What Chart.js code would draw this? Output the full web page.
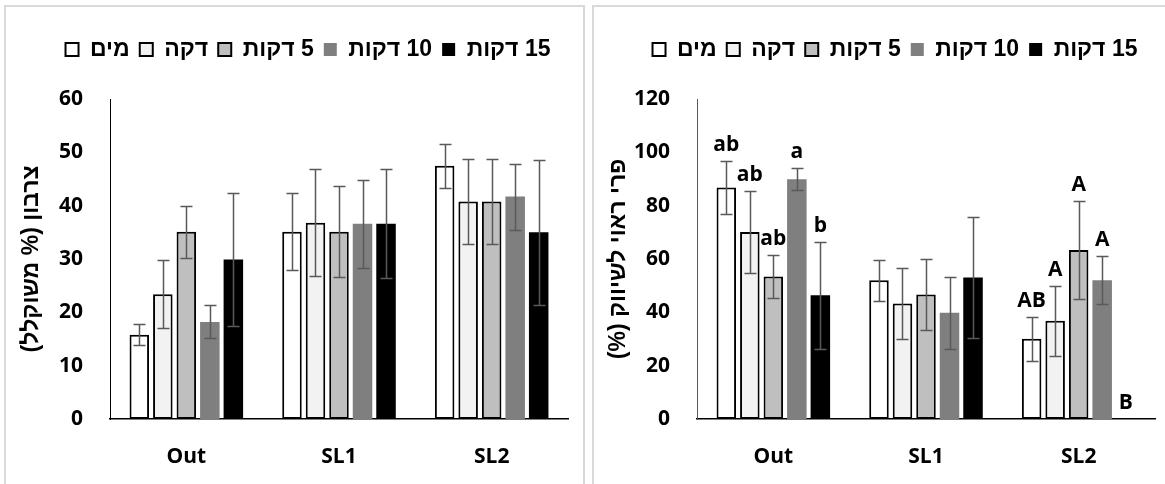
<!DOCTYPE html>
<html lang="he">
<head>
<meta charset="utf-8">
<script src="https://cdn.jsdelivr.net/npm/chart.js@4.4.1/dist/chart.umd.min.js"></script>
<style>
  html, body { margin: 0; padding: 0; background: #fff; width: 1165px; height: 484px; overflow: hidden; }
  .panel { position: absolute; top: 5px; height: 520px; border: 2px solid #d9d9d9; box-sizing: border-box; background: #fff; }
  #p1 { left: 4px; width: 581px; }
  #p2 { left: 592px; width: 620px; }
  canvas { position: absolute; top: 0; }
  #c1 { left: 0; }
  #c2 { left: 587px; }
</style>
</head>
<body>
<div class="panel" id="p1"></div>
<div class="panel" id="p2"></div>
<canvas id="c1" dir="rtl" width="588" height="484"></canvas>
<canvas id="c2" dir="rtl" width="588" height="484"></canvas>
<script>
// Categories and treatment names
const categories = ['Out', 'SL1', 'SL2'];
const treatments = ['מים', 'דקה', '5 דקות', '10 דקות', '15 דקות'];

// Scald index (% weighted) per treatment, one value per category
const scaldWater = [15.8, 35.1, 47.5];
const scaldMin1  = [23.4, 36.8, 40.8];
const scaldMin5  = [35.1, 35.1, 40.8];
const scaldMin10 = [18.2, 36.6, 41.7];
const scaldMin15 = [29.9, 36.6, 35.0];
const scaldErrWater = [2.0, 7.2, 4.1];
const scaldErrMin1  = [6.4, 10.0, 8.0];
const scaldErrMin5  = [4.9, 8.5, 7.9];
const scaldErrMin10 = [3.1, 8.3, 6.2];
const scaldErrMin15 = [12.5, 10.2, 13.6];
const scaldTicks = { max: 60, step: 10 };

// Marketable fruit (%) per treatment
const marketWater = [86.8, 52.0, 30.1];
const marketMin1  = [70.1, 43.3, 36.8];
const marketMin5  = [53.4, 46.7, 63.4];
const marketMin10 = [89.9, 39.8, 52.0];
const marketMin15 = [46.4, 53.1, 0];
const marketErrWater = [9.8, 7.7, 8.2];
const marketErrMin1  = [15.3, 13.4, 13.1];
const marketErrMin5  = [8.2, 13.2, 18.5];
const marketErrMin10 = [4.2, 13.5, 9.0];
const marketErrMin15 = [20.0, 22.7, 0];
const marketTicks = { max: 120, step: 20 };

// Significance letters above the marketable-fruit bars
const lettersWater = ['ab', '', 'AB'];
const lettersMin1  = ['ab', '', 'A'];
const lettersMin5  = ['ab', '', 'A'];
const lettersMin10 = ['a', '', 'A'];
const lettersMin15 = ['b', '', 'B'];

const barStyles = [
  { backgroundColor: '#ffffff', borderColor: '#000000', borderWidth: 2 },
  { backgroundColor: '#f2f2f2', borderColor: '#000000', borderWidth: 2 },
  { backgroundColor: '#bfbfbf', borderColor: '#000000', borderWidth: 2 },
  { backgroundColor: '#7f7f7f', borderColor: '#7f7f7f', borderWidth: 0 },
  { backgroundColor: '#000000', borderColor: '#000000', borderWidth: 0 }
];

// Vertical error bars with caps, drawn from each dataset's "errors" list
const errorBars = {
  id: 'errorBars',
  afterDatasetsDraw(chart, args, opts) {
    const { ctx } = chart;
    const y = chart.scales.y;
    ctx.save();
    ctx.strokeStyle = opts.color;
    ctx.lineWidth = opts.width;
    chart.data.datasets.forEach((ds, i) => {
      const meta = chart.getDatasetMeta(i);
      meta.data.forEach((bar, j) => {
        const e = ds.errors ? ds.errors[j] : 0;
        if (!e) return;
        const v = ds.data[j];
        const yt = Math.round(y.getPixelForValue(v + e)) + 0.5;
        const yb = Math.round(y.getPixelForValue(v - e)) + 0.5;
        const x = Math.round(bar.x) + 0.5;
        ctx.beginPath();
        ctx.moveTo(x, yt); ctx.lineTo(x, yb);
        ctx.moveTo(x - opts.cap, yt); ctx.lineTo(x + opts.cap, yt);
        ctx.moveTo(x - opts.cap, yb); ctx.lineTo(x + opts.cap, yb);
        ctx.stroke();
      });
    });
    ctx.restore();
  }
};

// Letters written just above the top of each error bar
const sigLetters = {
  id: 'sigLetters',
  afterDatasetsDraw(chart, args, opts) {
    const { ctx } = chart;
    const y = chart.scales.y;
    ctx.save();
    ctx.font = opts.font;
    ctx.fillStyle = '#000';
    ctx.textAlign = 'center';
    ctx.textBaseline = 'alphabetic';
    ctx.direction = 'ltr';
    chart.data.datasets.forEach((ds, i) => {
      if (!ds.letters) return;
      const meta = chart.getDatasetMeta(i);
      meta.data.forEach((bar, j) => {
        const t = ds.letters[j];
        if (!t) return;
        const top = ds.data[j] + (ds.errors ? ds.errors[j] : 0);
        ctx.fillText(t, bar.x, y.getPixelForValue(top) - opts.gap);
      });
    });
    ctx.restore();
  }
};

// Horizontal offset of the legend row
const legendNudge = {
  id: 'legendNudge',
  afterLayout(chart, args, opts) {
    const l = chart.legend;
    if (l && opts.dx) { l.left += opts.dx; l.right += opts.dx; }
  }
};

const tickFont = { family: 'Open Sans', weight: 'bold', size: 21 };
const hebFont = { family: 'Arial, "Liberation Sans"', weight: 'bold', size: 23 };

function makeChart(canvasId, values, errors, letters, ticks, yTitle, axisColor) {
  const datasets = treatments.map((name, i) => Object.assign({
    label: name,
    data: values[i],
    errors: errors[i],
    letters: letters ? letters[i] : null,
    categoryPercentage: 0.77,
    barPercentage: 0.83,
    borderSkipped: false
  }, barStyles[i]));

  return new Chart(document.getElementById(canvasId), {
    type: 'bar',
    data: { labels: categories, datasets },
    plugins: [errorBars, sigLetters, legendNudge],
    options: {
      responsive: false,
      animation: false,
      layout: { padding: { left: 20, right: 20, top: 28, bottom: 0 } },
      plugins: {
        legend: {
          position: 'top',
          textDirection: 'rtl',
          labels: {
            font: hebFont,
            color: '#000',
            boxWidth: 13,
            boxHeight: 13,
            padding: 10
          }
        },
        title: {
          display: true,
          text: '',
          weight: 500,
          font: { size: 1, lineHeight: 1 },
          padding: { top: 0, bottom: 27 }
        },
        tooltip: { enabled: false },
        errorBars: { color: '#595959', width: 1.5, cap: 6 },
        sigLetters: { font: 'bold 21px "Open Sans"', gap: 10 },
        legendNudge: { dx: 14 }
      },
      scales: {
        x: {
          grid: { display: false, drawTicks: false },
          border: { display: true, color: '#000', width: 1.5 },
          ticks: { font: tickFont, color: '#000', padding: 25 },
          afterFit(s) { s.height = 65; }
        },
        y: {
          min: 0,
          max: ticks.max,
          grid: { display: false, drawTicks: false },
          border: { display: true, color: axisColor, width: 1 },
          ticks: { stepSize: ticks.step, font: tickFont, color: '#000', padding: 27 },
          title: {
            display: true,
            text: yTitle,
            color: '#000',
            font: hebFont,
            padding: { top: -2, bottom: 0 }
          },
          afterFit(s) { s.width = 90; }
        }
      }
    }
  });
}

makeChart('c1',
  [scaldWater, scaldMin1, scaldMin5, scaldMin10, scaldMin15],
  [scaldErrWater, scaldErrMin1, scaldErrMin5, scaldErrMin10, scaldErrMin15],
  null, scaldTicks, 'צרבון (% משוקלל)', '#000000');

makeChart('c2',
  [marketWater, marketMin1, marketMin5, marketMin10, marketMin15],
  [marketErrWater, marketErrMin1, marketErrMin5, marketErrMin10, marketErrMin15],
  [lettersWater, lettersMin1, lettersMin5, lettersMin10, lettersMin15],
  marketTicks, 'פרי ראוי לשיווק (%)', '#595959');
</script>
</body>
</html>
